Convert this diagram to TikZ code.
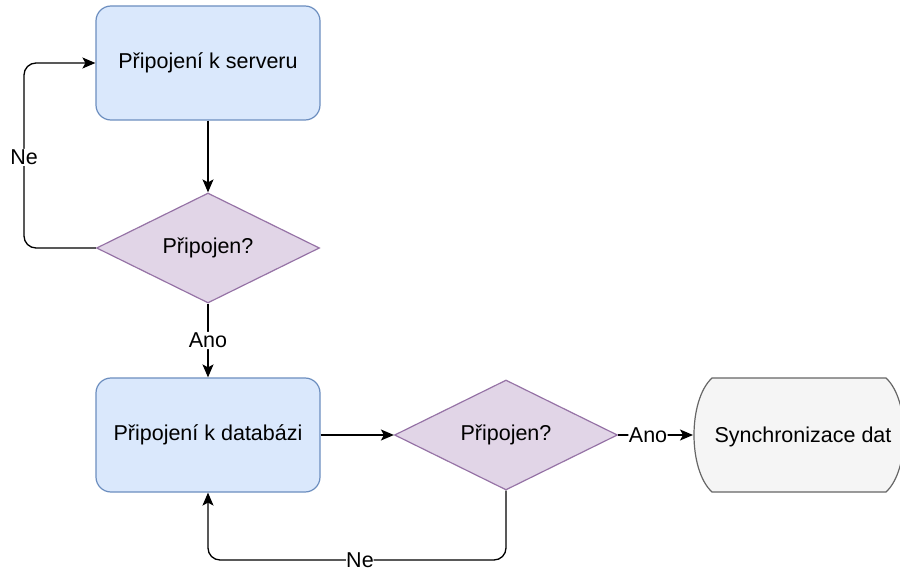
\documentclass[tikz,border=0pt]{standalone}
\usepackage{fontspec}
\setmainfont{Liberation Sans}
\usetikzlibrary{shapes.geometric,arrows.meta}
\definecolor{procfill}{HTML}{DAE8FC}
\definecolor{procline}{HTML}{6C8EBF}
\definecolor{decfill}{HTML}{E1D5E7}
\definecolor{decline}{HTML}{9673A6}
\definecolor{endfill}{HTML}{F5F5F5}
\definecolor{endline}{HTML}{666666}
\begin{document}
\begin{tikzpicture}[x=1pt,y=-1pt,
  font=\fontsize{21.5}{24}\selectfont,
  proc/.style={draw=procline,fill=procfill,line width=1.2pt,rounded corners=15pt,
    minimum width=224pt,minimum height=114pt,inner sep=0pt},
  dec/.style={diamond,draw=decline,fill=decfill,line width=1.2pt,aspect=2.03,
    minimum width=223pt,minimum height=110pt,inner sep=0pt},
  flow/.style={draw,line width=1.3pt,-{Stealth[length=13pt,width=11pt,inset=3pt]},rounded corners=12pt},
  lbl/.style={fill=white,inner sep=1pt}]
\useasboundingbox (0,0) rectangle (900,572);

\node[proc] (srv) at (208,63) {Připojení k serveru};
\node[dec] (q1) at (208,248) {Připojen?};
\node[proc] (db) at (208,435) {Připojení k databázi};
\node[dec] (q2) at (506,435) {Připojen?};

% terminal shape with bulging sides
\coordinate (sync) at (693,435);
\filldraw[draw=endline,fill=endfill,line width=1.2pt]
  (712,378) -- (886,378) .. controls (910,400) and (910,470) .. (886,492)
  -- (712,492) .. controls (688,470) and (688,400) .. cycle;
\node (synct) at (803,437) {Synchronizace dat};

\draw[flow] (srv.south) -- (q1.north);
\draw[flow] (q1.west) -- (24,248) -- (24,63) node[pos=0.49,lbl] {Ne} -- (srv.west);
\draw[flow] (q1.south) -- (db.north) node[midway,lbl] {Ano};
\draw[flow] (db.east) -- (q2.west);
\draw[flow] (q2.east) -- (sync) node[pos=0.4,lbl,inner sep=0.5pt] {Ano};
\draw[flow] (q2.south) -- (506,560) -- (208,560) node[pos=0.49,lbl,inner sep=0pt] {Ne} -- (db.south);
\end{tikzpicture}
\end{document}
